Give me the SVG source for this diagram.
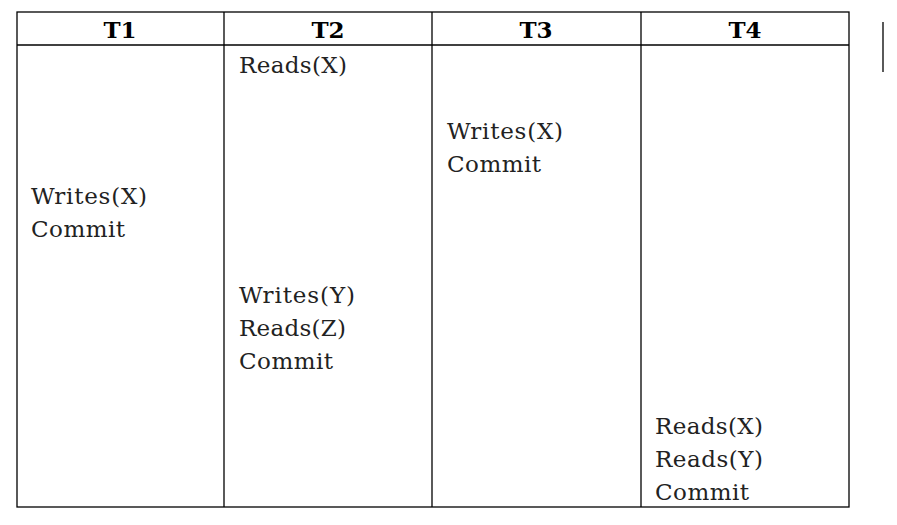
<svg xmlns="http://www.w3.org/2000/svg" width="897" height="525" viewBox="0 0 897 525">
<style>
.g line,.g rect{stroke:#000;stroke-width:1.3;fill:none}
.h{font-family:"DejaVu Serif",serif;font-weight:bold;font-size:23px;text-anchor:middle;fill:#000}
.t{font-family:"DejaVu Serif",serif;font-size:23px;fill:#222}
</style>
<rect width="897" height="525" fill="#fff"/>
<g id="table" class="g">
<rect x="17" y="12" width="832" height="495"/>
<line x1="17" y1="45" x2="849" y2="45"/>
<line x1="224" y1="12" x2="224" y2="507"/>
<line x1="432" y1="12" x2="432" y2="507"/>
<line x1="641" y1="12" x2="641" y2="507"/>
<line x1="883" y1="22" x2="883" y2="72"/>
</g>
<g id="headers">
<text class="h" x="120" y="38">T1</text>
<text class="h" x="328" y="38">T2</text>
<text class="h" x="536" y="38">T3</text>
<text class="h" x="745" y="38">T4</text>
</g>
<g id="T1">
<text class="t" x="31" y="204" textLength="116">Writes(X)</text>
<text class="t" x="31" y="237" textLength="94">Commit</text>
</g>
<g id="T2">
<text class="t" x="239" y="73" textLength="108">Reads(X)</text>
<text class="t" x="239" y="303" textLength="116">Writes(Y)</text>
<text class="t" x="239" y="336" textLength="107">Reads(Z)</text>
<text class="t" x="239" y="369" textLength="94">Commit</text>
</g>
<g id="T3">
<text class="t" x="447" y="139" textLength="116">Writes(X)</text>
<text class="t" x="447" y="172" textLength="94">Commit</text>
</g>
<g id="T4">
<text class="t" x="655" y="434" textLength="108">Reads(X)</text>
<text class="t" x="655" y="467" textLength="108">Reads(Y)</text>
<text class="t" x="655" y="500" textLength="94">Commit</text>
</g>
<g id="connectors"></g>
</svg>
